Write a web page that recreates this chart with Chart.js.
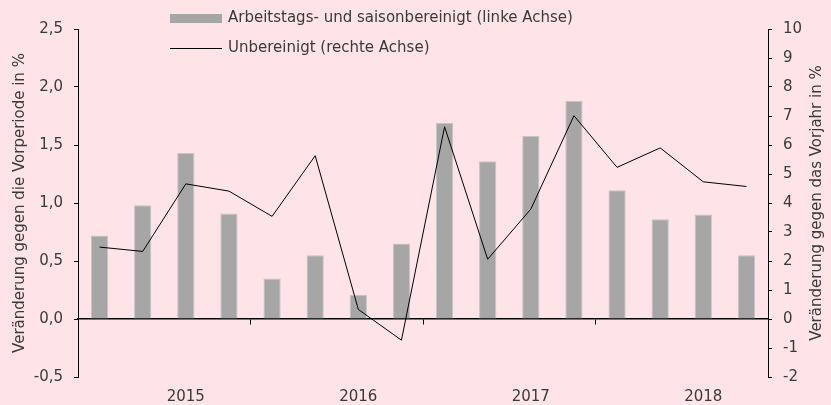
<!DOCTYPE html>
<html>
<head>
<meta charset="utf-8">
<script src="https://cdn.jsdelivr.net/npm/chart.js@4"></script>
<style>
  body { margin: 0; background: #fee4e6; }
  #wrap { position: relative; width: 831px; height: 405px; }
</style>
</head>
<body>
<div id="wrap"><canvas id="chart"></canvas></div>
<script>
// Quartale 2015 Q1 - 2018 Q4
const quarters = ["", "", "2015", "", "", "", "2016", "", "", "", "2017", "", "", "", "2018", ""];
const adjusted = [0.72, 0.98, 1.43, 0.91, 0.35, 0.55, 0.21, 0.65, 1.69, 1.36, 1.58, 1.88, 1.11, 0.86, 0.90, 0.55];
const unadjusted = [2.48, 2.33, 4.66, 4.41, 3.54, 5.63, 0.33, -0.73, 6.63, 2.06, 3.79, 7.01, 5.23, 5.90, 4.73, 4.57];
const leftTicks = [-0.5, 0, 0.5, 1, 1.5, 2, 2.5];
const rightTicks = [-2, 10];
const yearBoundaries = [4, 8, 12];

const fontFamily = "'DejaVu Sans', sans-serif";
const fontSize = 15;
const textColor = "#3a3a3a";

// Achsentitel (beide von unten nach oben gelesen)
const axisTitles = {
    id: "axisTitles",
    afterDraw(chart) {
        const c = chart.ctx;
        const area = chart.chartArea;
        const mid = (area.top + area.bottom) / 2;
        c.save();
        c.fillStyle = textColor;
        c.font = fontSize + "px " + fontFamily;
        c.textAlign = "center";
        c.textBaseline = "middle";
        [[20, "Veränderung gegen die Vorperiode in %"], [817, "Veränderung gegen das Vorjahr in %"]].forEach(([x, txt]) => {
            c.save();
            c.translate(x, mid);
            c.rotate(-Math.PI / 2);
            c.fillText(txt, 0, 0);
            c.restore();
        });
        c.restore();
    }
};

// Legende untereinander, im Diagramm
const stackedLegend = {
    id: "stackedLegend",
    afterDraw(chart) {
        const c = chart.ctx;
        const bars = chart.data.datasets.find(d => d.type === "bar");
        const line = chart.data.datasets.find(d => d.type === "line");
        c.save();
        c.font = fontSize + "px " + fontFamily;
        c.textBaseline = "middle";
        c.fillStyle = "#a6a6a6";
        c.fillRect(170, 14, 52, 9);
        c.strokeStyle = "#000";
        c.lineWidth = 1;
        c.beginPath();
        c.moveTo(170, 48.5);
        c.lineTo(222, 48.5);
        c.stroke();
        c.fillStyle = textColor;
        c.fillText(bars.label, 228, 18);
        c.fillText(line.label, 228, 48);
        c.restore();
    }
};

new Chart(document.getElementById("chart"), {
    data: {
        labels: quarters,
        datasets: [{
            type: "line",
            label: "Unbereinigt (rechte Achse)",
            data: unadjusted,
            yAxisID: "y1",
            borderColor: "#000",
            borderWidth: 1,
            pointRadius: 0,
            tension: 0,
            order: 0
        }, {
            type: "bar",
            label: "Arbeitstags- und saisonbereinigt (linke Achse)",
            data: adjusted,
            yAxisID: "y",
            backgroundColor: "#a6a6a6",
            borderColor: "#c4c4c4",
            borderWidth: 1,
            categoryPercentage: 0.8,
            barPercentage: 0.5,
            order: 1
        }]
    },
    options: {
        responsive: true,
        maintainAspectRatio: false,
        animation: false,
        layout: { padding: { top: 29, bottom: 0, left: 0, right: 0 } },
        plugins: {
            legend: { display: false },
            tooltip: { enabled: false }
        },
        scales: {
            x: {
                offset: true,
                grid: { display: false, drawTicks: false },
                border: { display: false },
                ticks: {
                    autoSkip: false,
                    maxRotation: 0,
                    padding: 11,
                    color: textColor,
                    font: { family: fontFamily, size: fontSize }
                },
                afterFit(scale) { scale.height = 28; }
            },
            x2: {
                type: "category",
                position: { y: 0 },
                offset: true,
                grid: {
                    offset: true,
                    drawOnChartArea: false,
                    tickLength: 5,
                    tickColor: (ctx) => yearBoundaries.includes(ctx.index) ? "#000" : "rgba(0,0,0,0)"
                },
                border: { display: true, color: "#000", width: 1.5 },
                ticks: { display: false }
            },
            y: {
                position: "left",
                min: leftTicks[0],
                max: leftTicks[leftTicks.length - 1],
                grid: { drawOnChartArea: false, tickLength: 4, tickColor: "#000" },
                border: { color: "#000", width: 1 },
                ticks: {
                    stepSize: 0.5,
                    padding: 11,
                    color: textColor,
                    font: { family: fontFamily, size: fontSize },
                    callback: (v) => v.toFixed(1).replace(".", ",")
                },
                afterFit(scale) { scale.width = 78; }
            },
            y1: {
                position: "right",
                min: rightTicks[0],
                max: rightTicks[1],
                grid: { drawOnChartArea: false, tickLength: 4, tickColor: "#000" },
                border: { color: "#000", width: 1 },
                ticks: {
                    stepSize: 1,
                    padding: 11,
                    color: textColor,
                    font: { family: fontFamily, size: fontSize }
                },
                afterFit(scale) { scale.width = 63; }
            }
        }
    },
    plugins: [axisTitles, stackedLegend]
});
</script>
</body>
</html>
